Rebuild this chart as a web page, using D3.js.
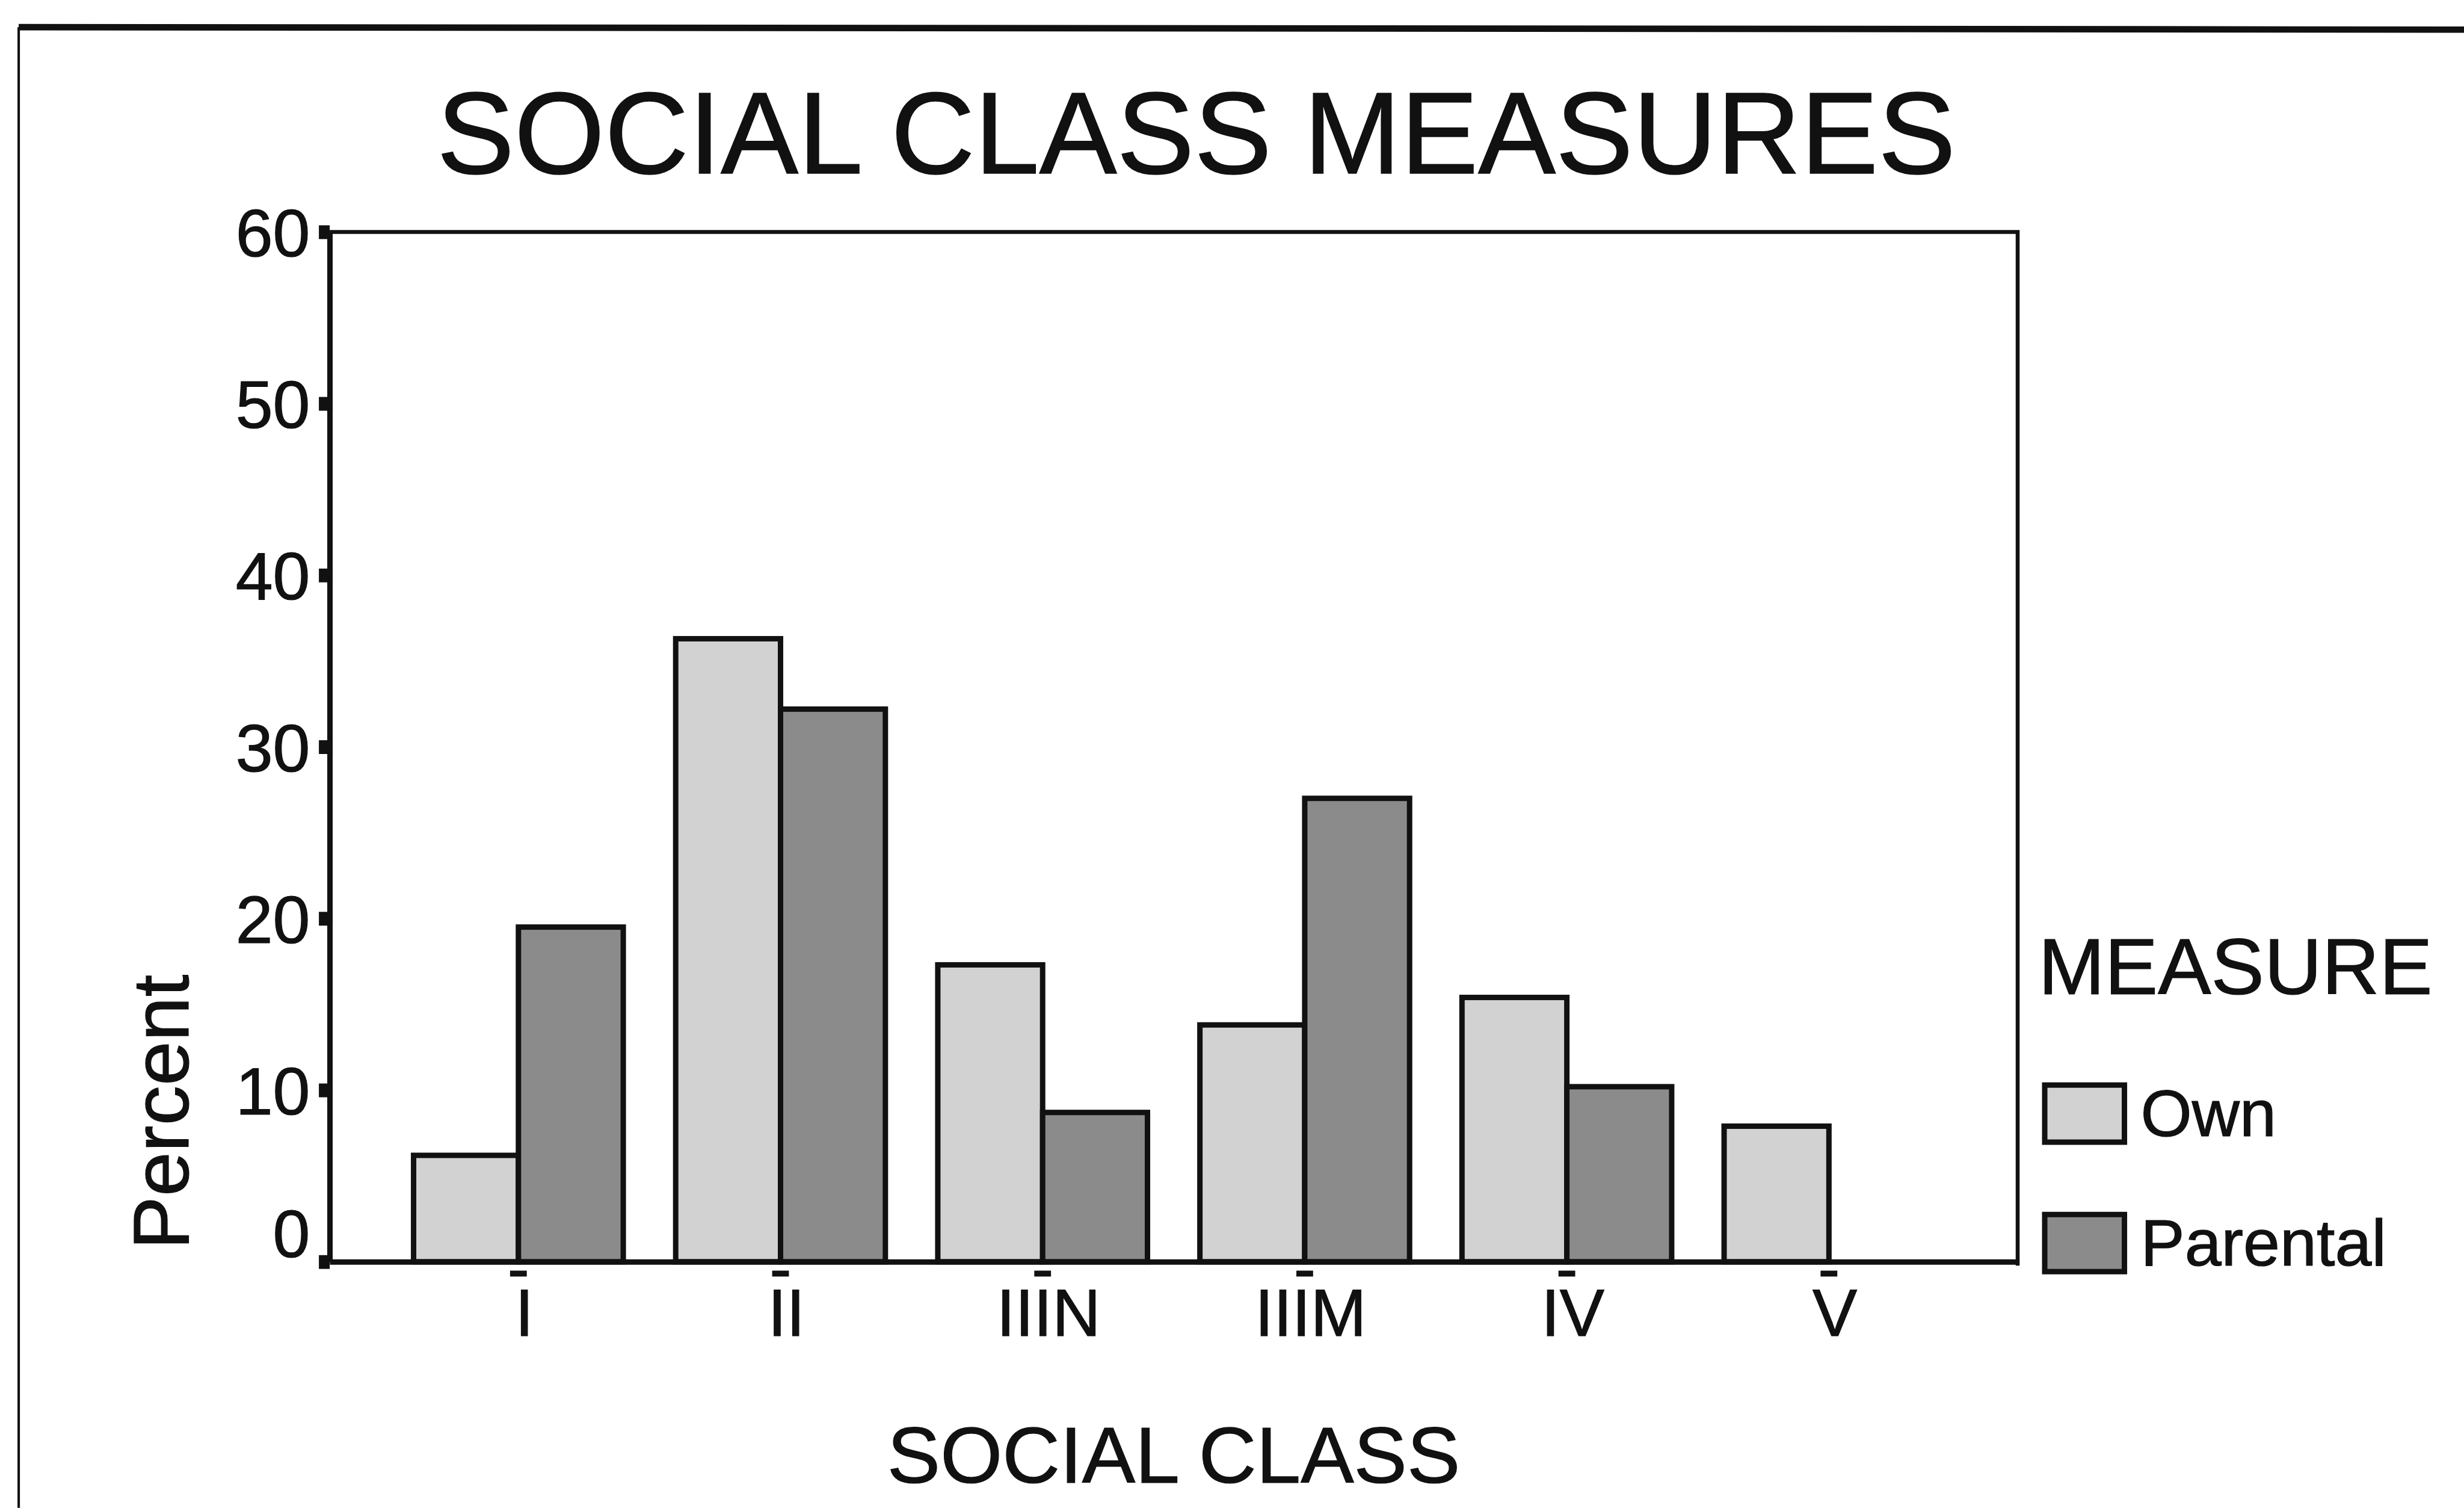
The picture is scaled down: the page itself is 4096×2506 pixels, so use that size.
<!DOCTYPE html>
<html>
<head>
<meta charset="utf-8">
<script src="https://cdn.jsdelivr.net/npm/d3@7"></script>
<style>
  html, body { margin: 0; padding: 0; background: #fff; overflow: hidden; }
  svg { display: block; }
</style>
</head>
<body>
<svg id="chart"></svg>
<script>
// Percent of respondents in each social class, by own and parental measure
const categories = ["I", "II", "IIIN", "IIIM", "IV", "V"];
const seriesNames = ["Own", "Parental"];
const ownValues = [6.2, 36.3, 17.3, 13.8, 15.4, 7.9];
const parentalValues = [19.5, 32.2, 8.7, 27.0, 10.2, null];
const yTicks = [0, 10, 20, 30, 40, 50, 60];

const W = 5007, H = 3063;
const font = "'Liberation Sans', Arial, Helvetica, sans-serif";
const ink = "#111";
const fills = { Own: "#d2d2d2", Parental: "#8b8b8b" };

const svg = d3.select("#chart")
  .attr("width", 4096)
  .attr("height", 2506)
  .attr("viewBox", `0 0 ${W} ${H}`);

svg.append("rect").attr("width", W).attr("height", H).attr("fill", "#fff");

const plot = { left: 670, right: 4100, top: 471, bottom: 2563 };

// page frame
svg.append("line")
  .attr("x1", 38).attr("y1", 55).attr("x2", W).attr("y2", 60)
  .attr("stroke", ink).attr("stroke-width", 13);
svg.append("line")
  .attr("x1", 38).attr("y1", 55).attr("x2", 38).attr("y2", H)
  .attr("stroke", ink).attr("stroke-width", 5);

// title
svg.append("text")
  .attr("x", 2431).attr("y", 352)
  .attr("text-anchor", "middle")
  .attr("font-family", font).attr("font-size", 236)
  .attr("fill", ink).attr("stroke", ink).attr("stroke-width", 2)
  .text("SOCIAL CLASS MEASURES");

// scales
const x = d3.scaleBand()
  .domain(categories)
  .range([plot.left, plot.right])
  .paddingInner(0.2)
  .paddingOuter(0.32);
const xs = d3.scaleBand()
  .domain(seriesNames)
  .range([0, x.bandwidth()]);
const y = d3.scaleLinear()
  .domain([0, 60])
  .range([plot.bottom, plot.top]);

const rows = categories.map((c, i) => ({
  cat: c,
  values: [
    { key: "Own", v: ownValues[i] },
    { key: "Parental", v: parentalValues[i] }
  ]
}));

// plot frame (top and right edges)
svg.append("path")
  .attr("d", `M${plot.left},${plot.top}H${plot.right}V${plot.bottom + 8}`)
  .attr("fill", "none").attr("stroke", ink).attr("stroke-width", 8);

// bars
const groups = svg.append("g").selectAll("g")
  .data(rows)
  .join("g")
  .attr("transform", d => `translate(${x(d.cat)},0)`);

groups.selectAll("rect")
  .data(d => d.values.filter(e => e.v != null))
  .join("rect")
  .attr("x", d => xs(d.key))
  .attr("y", d => y(d.v))
  .attr("width", xs.bandwidth())
  .attr("height", d => y(0) - y(d.v))
  .attr("fill", d => fills[d.key])
  .attr("stroke", ink)
  .attr("stroke-width", 11);

// y axis
const gy = svg.append("g")
  .attr("transform", `translate(${plot.left},0)`)
  .call(d3.axisLeft(y).tickValues(yTicks).tickSize(22).tickSizeOuter(0).tickPadding(18));
gy.select(".domain").attr("stroke", ink).attr("stroke-width", 11);
gy.selectAll(".tick line").attr("stroke", ink).attr("stroke-width", 28);
gy.selectAll(".tick text")
  .attr("font-family", font).attr("font-size", 136).attr("fill", ink)
  .attr("stroke", ink).attr("stroke-width", 1.5)
  .attr("dy", d => d === 0 ? "-0.07em" : "0.36em");

// x axis
const gx = svg.append("g")
  .attr("transform", `translate(0,${plot.bottom})`)
  .call(d3.axisBottom(x).tickSize(0).tickSizeOuter(0));
gx.select(".domain").attr("stroke", ink).attr("stroke-width", 11);
gx.selectAll(".tick line")
  .attr("x1", -17).attr("x2", 17).attr("y1", 24).attr("y2", 24)
  .attr("stroke", ink).attr("stroke-width", 12);
gx.selectAll(".tick text")
  .attr("y", 151).attr("dy", 0).attr("dx", 12)
  .attr("font-family", font).attr("font-size", 136).attr("fill", ink)
  .attr("stroke", ink).attr("stroke-width", 1.5);

// axis titles
svg.append("text")
  .attr("x", (plot.left + plot.right) / 2).attr("y", 3012)
  .attr("text-anchor", "middle")
  .attr("font-family", font).attr("font-size", 162).attr("fill", ink)
  .attr("stroke", ink).attr("stroke-width", 1.5)
  .text("SOCIAL CLASS");

svg.append("text")
  .attr("transform", "translate(383,2259) rotate(-90)")
  .attr("text-anchor", "middle")
  .attr("font-family", font).attr("font-size", 162).attr("fill", ink)
  .attr("stroke", ink).attr("stroke-width", 1.5)
  .text("Percent");

// legend
const legend = svg.append("g").attr("transform", "translate(4142,0)");
legend.append("text")
  .attr("x", 0).attr("y", 2019)
  .attr("font-family", font).attr("font-size", 162).attr("fill", ink)
  .attr("stroke", ink).attr("stroke-width", 1.5)
  .text("MEASURE");

const items = legend.selectAll("g.item")
  .data(seriesNames)
  .join("g")
  .attr("class", "item")
  .attr("transform", (d, i) => `translate(0,${2204 + i * 263})`);
items.append("rect")
  .attr("x", 13).attr("y", 0)
  .attr("width", 162).attr("height", 116)
  .attr("fill", d => fills[d])
  .attr("stroke", ink).attr("stroke-width", 11);
items.append("text")
  .attr("x", 208).attr("y", 104)
  .attr("font-family", font).attr("font-size", 134).attr("fill", ink)
  .attr("stroke", ink).attr("stroke-width", 1.5)
  .text(d => d);
</script>
</body>
</html>
